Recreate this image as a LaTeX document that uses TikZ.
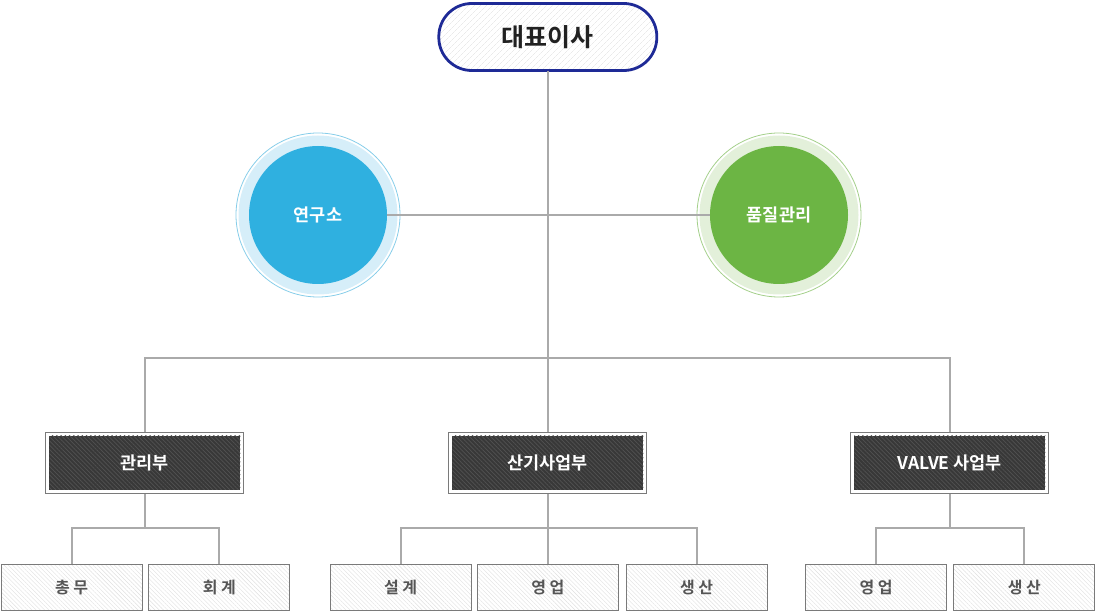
\documentclass[tikz,border=0pt]{standalone}
\usepackage{fontspec}
\setmainfont{Noto Sans CJK KR}[BoldFont=* Bold]
\newfontfamily\subfont{Noto Sans CJK KR}[BoldFont=* Bold, LetterSpace=22]
\usetikzlibrary{patterns.meta}

\definecolor{ceoblue}{RGB}{30,42,150}
\definecolor{resblue}{RGB}{47,176,224}
\definecolor{resband}{RGB}{214,238,249}
\definecolor{resring}{RGB}{134,205,233}
\definecolor{qcgreen}{RGB}{108,181,68}
\definecolor{qcband}{RGB}{227,240,218}
\definecolor{qcring}{RGB}{163,207,138}
\definecolor{darkfill}{RGB}{56,56,56}
\definecolor{linegray}{RGB}{170,170,170}
\definecolor{framegray}{RGB}{122,122,122}
\definecolor{subtext}{RGB}{85,85,85}

\tikzset{
	conn/.style={draw=linegray, line width=2pt},
	ceobox/.style={draw=ceoblue, line width=2.8pt, rounded corners=33pt, minimum width=218pt, minimum height=67pt, inner sep=0pt,
		preaction={fill=white}, pattern={Lines[angle=45,distance=4pt,line width=0.4pt]}, pattern color=black!12,
		text=black!87, font=\bfseries\fontsize{25}{25}\selectfont},
	labcircle/.style={circle, minimum size=138pt, inner sep=0pt, text=white, font=\bfseries\fontsize{17.5}{17.5}\selectfont},
	deptbox/.style={draw=framegray, line width=1pt, fill=white, minimum width=198pt, minimum height=61pt, inner sep=0pt,
		text=white, font=\bfseries\fontsize{17.5}{17.5}\selectfont,
		path picture={
			\fill[darkfill] ([shift={(3.5,3.5)}]path picture bounding box.north west) rectangle ([shift={(-3.5,-3.5)}]path picture bounding box.south east);
			\fill[pattern={Lines[angle=-45,distance=3pt,line width=0.7pt]}, pattern color=black!68] ([shift={(3.5,3.5)}]path picture bounding box.north west) rectangle ([shift={(-3.5,-3.5)}]path picture bounding box.south east);
		}},
	subbox/.style={draw=framegray, line width=1pt, minimum width=141pt, minimum height=46pt, inner sep=0pt,
		preaction={fill=white}, pattern={Lines[angle=-45,distance=3pt,line width=0.4pt]}, pattern color=black!12,
		text=subtext, font=\subfont\bfseries\fontsize{16}{16}\selectfont}
}

\begin{document}
\begin{tikzpicture}[x=1pt,y=-1pt]
	\useasboundingbox (0,0) rectangle (1096,612);

	% top
	\node[ceobox] (ceo) at (547.8,37) {대표이사};

	% side circles
	\coordinate (resc) at (318,215);
	\coordinate (qcc) at (779,215);
	\fill[resband] (resc) circle (79.5);
	\draw[resring, line width=0.8pt] (resc) circle (82);
	\fill[qcband] (qcc) circle (79.5);
	\draw[qcring, line width=0.8pt] (qcc) circle (82);
	\node[labcircle, fill=resblue] (res) at (resc) {연구소};
	\node[labcircle, fill=qcgreen] (qc) at (qcc) {품질관리};

	% departments
	\node[deptbox] (mgmt) at (144.8,462.8) {관리부};
	\node[deptbox] (ind) at (547.8,462.8) {산기사업부};
	\node[deptbox] (valve) at (949.8,462.8) {VALVE 사업부};

	% teams
	\node[subbox] (gen) at (71.5,587.5) {총무};
	\node[subbox] (acc) at (219.3,587.5) {회계};
	\node[subbox] (des) at (400.5,587.5) {설계};
	\node[subbox] (sal) at (547.8,587.5) {영업};
	\node[subbox] (pro) at (696.5,587.5) {생산};
	\node[subbox] (vsal) at (876,587.5) {영업};
	\node[subbox] (vpro) at (1024.3,587.5) {생산};

	% connectors
	\coordinate (bus) at (547.8,358);
	\draw[conn] (ceo.south) -- (ind.north);
	\draw[conn] (res.east) -- (qc.west);
	\draw[conn] (mgmt.north) |- (bus) -| (valve.north);

	\coordinate (mgmtbus) at (144.8,527.5);
	\coordinate (indbus) at (547.8,527.5);
	\coordinate (valvebus) at (949.8,527.5);
	\draw[conn] (mgmt.south) -- (mgmtbus);
	\draw[conn] (gen.north) |- (mgmtbus) -| (acc.north);
	\draw[conn] (ind.south) -- (sal.north);
	\draw[conn] (des.north) |- (indbus) -| (pro.north);
	\draw[conn] (valve.south) -- (valvebus);
	\draw[conn] (vsal.north) |- (valvebus) -| (vpro.north);
\end{tikzpicture}
\end{document}
